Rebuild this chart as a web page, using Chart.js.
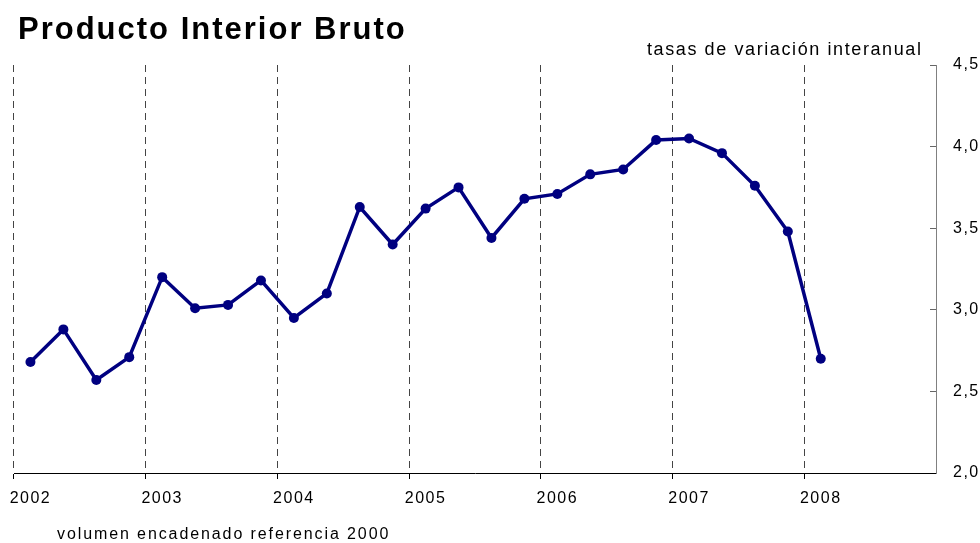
<!DOCTYPE html>
<html>
<head>
<meta charset="utf-8">
<script src="https://cdn.jsdelivr.net/npm/chart.js@4.4.1/dist/chart.umd.min.js"></script>
<style>
  body { margin: 0; background: #fff; }
  #wrap { position: relative; width: 980px; height: 543px; font-family: "Liberation Sans", Arial, sans-serif; color: #000; }
  #wrap canvas { position: absolute; left: 0; top: 0; }
  .txt { position: absolute; white-space: nowrap; line-height: 1; }
  #title { left: 18px; top: 13px; font-size: 31px; font-weight: bold; letter-spacing: 2px; }
  #units { left: 647px; top: 40px; font-size: 18px; letter-spacing: 1.6px; }
  #note { left: 57px; top: 526px; font-size: 16px; letter-spacing: 1.9px; }
</style>
</head>
<body>
<div id="wrap">
  <canvas id="chart" width="980" height="543"></canvas>
  <div class="txt" id="title">Producto Interior Bruto</div>
  <div class="txt" id="units">tasas de variación interanual</div>
  <div class="txt" id="note">volumen encadenado referencia 2000</div>
</div>
<script>
// años del eje (cada uno con cuatro trimestres)
const years = ['2002', '2003', '2004', '2005', '2006', '2007', '2008'];
// PIB, tasa interanual por trimestre, 2002 T1 .. 2008 T1
const gdp = [2.68, 2.88, 2.57, 2.71,
             3.20, 3.01, 3.03, 3.18,
             2.95, 3.10, 3.63, 3.40,
             3.62, 3.75, 3.44, 3.68,
             3.71, 3.83, 3.86, 4.04,
             4.05, 3.96, 3.76, 3.48,
             2.70];
const yTicks = [2.0, 2.5, 3.0, 3.5, 4.0, 4.5];

// one category per quarter, year label only on the first quarter
const labels = [];
years.forEach(y => { labels.push(y, '', '', ''); });

const font = { family: '"Liberation Sans", Arial, sans-serif', size: 16 };

const spacing = {
    id: 'spacing',
    beforeDraw(c) { c.ctx.letterSpacing = '1.5px'; },
    afterDraw(c) { c.ctx.letterSpacing = '0px'; }
};

const yearLine = (col) => (ctx) => (ctx.index !== undefined && ctx.index % 4 === 0) ? col : 'transparent';

new Chart(document.getElementById('chart'), {
    type: 'line',
    data: {
        labels: labels,
        datasets: [{
            data: gdp,
            borderColor: '#000080',
            backgroundColor: '#000080',
            borderWidth: 3.5,
            pointRadius: 5,
            pointBorderWidth: 0,
            pointBackgroundColor: '#000080',
            tension: 0,
            clip: false
        }]
    },
    options: {
        responsive: false,
        animation: false,
        layout: { padding: { left: 14, top: 65, right: 0, bottom: 0 } },
        plugins: {
            legend: { display: false },
            tooltip: { enabled: false }
        },
        scales: {
            x: {
                type: 'category',
                offset: true,
                grid: {
                    offset: true,
                    color: yearLine('#444'),
                    tickColor: yearLine('#000'),
                    tickLength: 6,
                    lineWidth: 1
                },
                border: { color: '#000', width: 1, dash: [7, 5] },
                ticks: { autoSkip: false, maxRotation: 0, padding: 10, color: '#000', font: font },
                afterFit: s => { s.height = 70; }
            },
            y: {
                position: 'right',
                min: yTicks[0],
                max: yTicks[yTicks.length - 1],
                afterBuildTicks: s => { s.ticks = yTicks.map(v => ({ value: v })); },
                ticks: {
                    padding: 23,
                    color: '#000',
                    font: font,
                    callback: v => v.toFixed(1).replace('.', ',')
                },
                grid: { drawOnChartArea: false, tickLength: -6, color: '#666', tickColor: '#666' },
                border: { color: '#808080', width: 1 },
                afterFit: s => { s.width = 44; }
            }
        }
    },
    plugins: [spacing]
});
</script>
</body>
</html>
